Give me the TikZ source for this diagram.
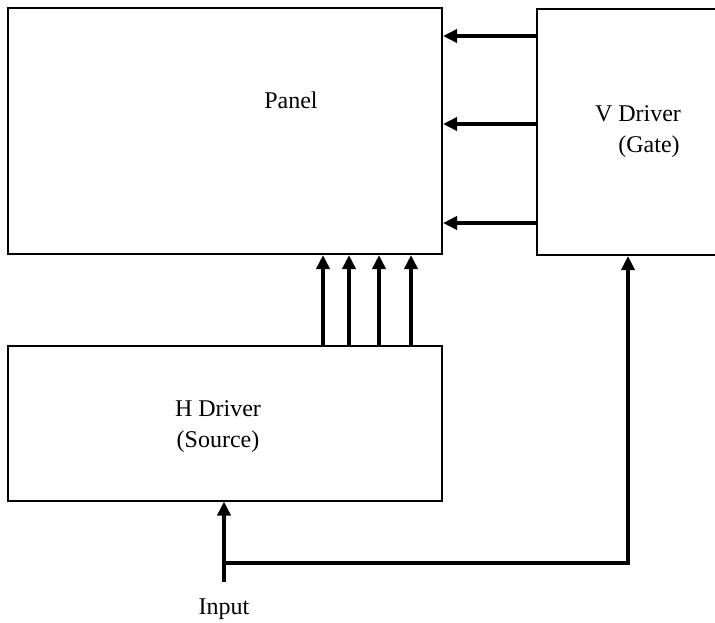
\documentclass[tikz,border=0pt]{standalone}
\usepackage{fontspec}
\setmainfont{Liberation Serif}
\usetikzlibrary{arrows.meta, positioning}
\tikzset{
	x=1pt, y=-1pt, % Unidades en pixeles, eje y hacia abajo
	caja/.style={draw, line width=2pt, minimum width=434pt, inner sep=0pt}, % Bloques
	bus/.style={line width=3.6pt, -{Triangle[length=14pt,width=13pt]}}, % Flechas gruesas
	texto/.style={font=\fontsize{24}{28}\selectfont, inner sep=0pt, align=center} % Textos
}

\begin{document}
\begin{tikzpicture}
	\useasboundingbox (0,0) rectangle (715,622);
	\node[caja, minimum height=246pt] (panel) at (225,131) {};
	\node[caja, minimum width=200pt, minimum height=246pt, anchor=north west] (vdrv) at (536,8) {};
	\node[caja, minimum height=155pt] (hdrv) at (225,423) {};

	\node[texto] (tpanel) at (291,100) {Panel};
	\node[texto] (tv1) at (638,114) {V Driver};
	\node[texto] (tv2) at (649,147) {(Gate)};
	\node[texto] (th1) at (218,409) {H Driver};
	\node[texto] (th2) at (218,442) {(Source)};
	\node[texto] (input) at (224,609) {Input};

	\foreach \y in {36,124,223}
		\draw[bus] (vdrv.west |- 0,\y) -- (panel.east |- 0,\y);
	\foreach \x in {323,349,379,411}
		\draw[bus] (hdrv.north -| \x,0) -- (panel.south -| \x,0);

	\coordinate (in) at (224,582);
	\coordinate (jn) at (224,563);
	\coordinate (turn) at (628,563);
	\draw[bus] (in) -- (hdrv.south -| in);
	\draw[bus] (jn) -- (turn) -- (vdrv.south -| turn);
\end{tikzpicture}
\end{document}
